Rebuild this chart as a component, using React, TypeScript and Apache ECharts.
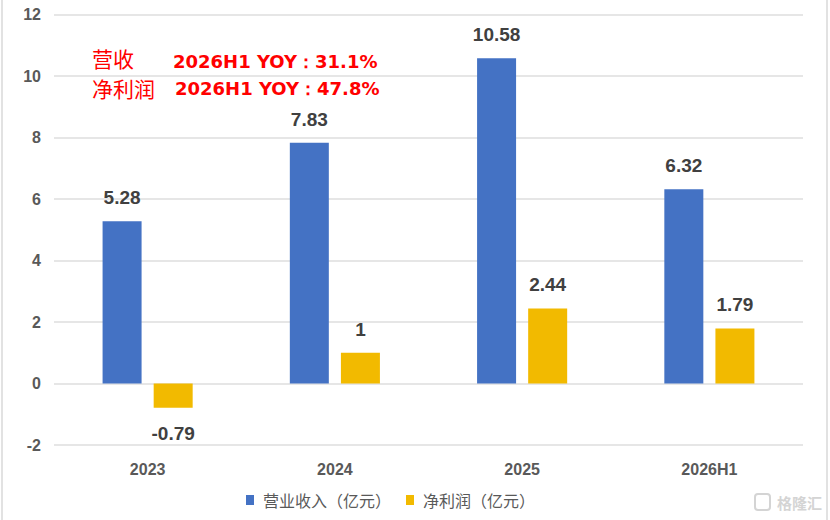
import React, { useEffect, useRef } from "react";
import * as echarts from "echarts";

const categories = ["2023", "2024", "2025", "2026H1"];
const revenue = [5.28, 7.83, 10.58, 6.32];
const netProfit = [-0.79, 1, 2.44, 1.79];
const seriesNames = ["营业收入（亿元）", "净利润（亿元）"];
const noteLabels = ["营收", "净利润"];
const noteValues = ["2026H1 YOY：31.1%", "2026H1 YOY：47.8%"];
const watermark = "格隆汇";

export default function App() {
  const ref = useRef<HTMLDivElement>(null);
  useEffect(() => {
    document.body.style.margin = "0";
    const chart = echarts.init(ref.current!, undefined, { renderer: "svg" });
    const labelStyle = {
      show: true,
      position: "top",
      distance: 14,
      fontSize: 19,
      fontWeight: "bold",
      color: "#404040",
      fontFamily: "Liberation Sans",
    };
    chart.setOption({
      animation: false,
      backgroundColor: "#ffffff",
      grid: { left: 54, right: 27, top: 14.5, bottom: 75 },
      legend: {
        left: 241,
        top: 487,
        itemWidth: 8,
        itemHeight: 10,
        itemGap: 15,
        icon: "rect",
        textStyle: {
          fontSize: 16,
          color: "#595959",
          fontFamily: "Noto Sans CJK SC",
          padding: [0, 0, 0, 4],
        },
        data: seriesNames,
      },
      xAxis: {
        type: "category",
        data: categories,
        axisLine: { show: false, onZero: false },
        axisTick: { show: false },
        axisLabel: {
          margin: 16,
          fontSize: 16,
          fontWeight: "bold",
          color: "#595959",
          fontFamily: "Liberation Sans",
        },
      },
      yAxis: {
        type: "value",
        min: -2,
        max: 12,
        interval: 2,
        axisLine: { show: false },
        axisTick: { show: false },
        axisLabel: {
          margin: 13,
          fontSize: 16,
          fontWeight: "bold",
          color: "#595959",
          fontFamily: "Liberation Sans",
        },
        splitLine: { lineStyle: { color: "#dedede", width: 1.6 } },
      },
      series: [
        {
          name: seriesNames[0],
          type: "bar",
          data: revenue,
          barWidth: 39,
          barGap: "31%",
          itemStyle: { color: "#4472C4" },
          label: labelStyle,
        },
        {
          name: seriesNames[1],
          type: "bar",
          data: netProfit.map((v) =>
            v < 0 ? { value: v, label: { position: "bottom", distance: 16 } } : v
          ),
          barWidth: 39,
          itemStyle: { color: "#F2BA00" },
          label: labelStyle,
        },
      ],
      graphic: [
        { type: "rect", shape: { x: 1, y: 0, width: 2, height: 520 }, style: { fill: "#e2e2e2" } },
        { type: "rect", shape: { x: 826, y: 0, width: 2, height: 520 }, style: { fill: "#e2e2e2" } },
        {
          type: "text",
          x: 92,
          y: 58,
          style: { text: noteLabels[0], fontSize: 21, fill: "#ff0000", fontFamily: "Noto Sans CJK SC", verticalAlign: "middle" },
        },
        {
          type: "text",
          x: 173,
          y: 61,
          style: { text: noteValues[0], fontSize: 18, fontWeight: "bold", fill: "#ff0000", fontFamily: "DejaVu Sans", verticalAlign: "middle" },
        },
        {
          type: "text",
          x: 92,
          y: 88,
          style: { text: noteLabels[1], fontSize: 21, fill: "#ff0000", fontFamily: "Noto Sans CJK SC", verticalAlign: "middle" },
        },
        {
          type: "text",
          x: 175,
          y: 88.5,
          style: { text: noteValues[1], fontSize: 18, fontWeight: "bold", fill: "#ff0000", fontFamily: "DejaVu Sans", verticalAlign: "middle" },
        },
        {
          type: "rect",
          shape: { x: 755, y: 494, width: 15, height: 16, r: 3 },
          style: { fill: "none", stroke: "#d4d4d4", lineWidth: 2 },
        },
        {
          type: "text",
          x: 777,
          y: 502,
          style: { text: watermark, fontSize: 15, fontWeight: "bold", fill: "#d4d4d4", fontFamily: "Noto Sans CJK SC", verticalAlign: "middle" },
        },
      ],
    });
    return () => chart.dispose();
  }, []);
  return <div ref={ref} style={{ width: 830, height: 520 }} />;
}
